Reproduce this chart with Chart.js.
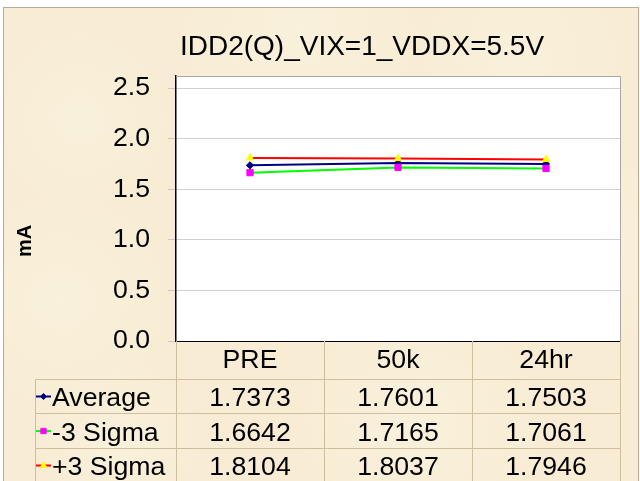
<!DOCTYPE html>
<html><head><meta charset="utf-8">
<script src="https://cdn.jsdelivr.net/npm/chart.js@4.4.1/dist/chart.umd.min.js"></script>
<style>html,body{margin:0;padding:0;background:#fff}canvas{display:block}</style>
</head><body><canvas id="c" width="640" height="481"></canvas>
<script>
const categories = ['PRE', '50k', '24hr'];
const seriesNames = ['Average', '-3 Sigma', '+3 Sigma'];
const average = [1.7373, 1.7601, 1.7503];
const minus3 = [1.6642, 1.7165, 1.7061];
const plus3 = [1.8104, 1.8037, 1.7946];
const yTicks = [0, 0.5, 1.0, 1.5, 2.0, 2.5];
const titleText = 'IDD2(Q)_VIX=1_VDDX=5.5V';
const yTitle = 'mA';

const FONT = "'Liberation Sans', Arial, sans-serif";
const PARCH = '#F8EDD4';
const TABLE_LINE = '#CDBF9F';

const seriesStyles = [
  {line: '#000080', fill: '#000080', style: 'rectRot', r: 3.6},
  {line: '#00FF00', fill: '#FF00FF', style: 'rect', r: 4.4},
  {line: '#FF0000', fill: '#FFFF00', style: 'triangle', r: 4.2}
];
const seriesData = [average, minus3, plus3];

function drawMarker(ctx, style, x, y, r, color) {
  ctx.save();
  ctx.fillStyle = color; ctx.strokeStyle = color; ctx.lineWidth = 1;
  Chart.helpers.drawPoint(ctx, {pointStyle: style, radius: r, rotation: 0, borderWidth: 1}, x, y);
  ctx.restore();
}

const decor = {
  id: 'decor',
  beforeDraw(chart) {
    const ctx = chart.ctx, a = chart.chartArea;
    ctx.save();
    ctx.fillStyle = '#fff';
    ctx.fillRect(0, 0, chart.width, chart.height);
    ctx.fillStyle = PARCH;
    ctx.fillRect(3, 7, 636, 480);
    const spots = [[80,120,90],[300,30,120],[520,60,100],[60,300,110],[600,250,90],[120,440,80],[420,420,120]];
    spots.forEach(s => {
      const g = ctx.createRadialGradient(s[0], s[1], 0, s[0], s[1], s[2]);
      g.addColorStop(0, 'rgba(250,243,225,0.6)');
      g.addColorStop(1, 'rgba(250,243,225,0)');
      ctx.fillStyle = g;
      ctx.fillRect(3, 7, 636, 480);
    });
    ctx.strokeStyle = '#B5AC9C';
    ctx.lineWidth = 1;
    ctx.strokeRect(3.5, 7.5, 635, 480);
    ctx.fillStyle = '#fff';
    ctx.fillRect(a.left, a.top, a.right - a.left, a.bottom - a.top);
    ctx.restore();
  },
  afterDraw(chart) {
    const ctx = chart.ctx, a = chart.chartArea, xs = chart.scales.x;
    ctx.save();
    ctx.strokeStyle = '#A8A8A8';
    ctx.lineWidth = 1;
    ctx.beginPath();
    ctx.moveTo(a.left, a.top + 0.5); ctx.lineTo(a.right + 0.5, a.top + 0.5);
    ctx.lineTo(a.right + 0.5, a.bottom);
    ctx.stroke();

    // chart title
    ctx.fillStyle = '#000';
    ctx.font = '28px ' + FONT;
    ctx.textAlign = 'center';
    ctx.textBaseline = 'alphabetic';
    ctx.fillText(titleText, 362, 55);

    // y axis title
    ctx.save();
    ctx.translate(25, 241);
    ctx.rotate(-Math.PI / 2);
    ctx.font = 'bold 20px ' + FONT;
    ctx.textAlign = 'center';
    ctx.textBaseline = 'middle';
    ctx.fillText(yTitle, 0, 0);
    ctx.restore();

    // data table
    const rowTops = [379, 413, 448];
    const rowH = [34, 35, 34];
    const bounds = [];
    for (let i = 0; i <= categories.length; i++) {
      bounds.push(Math.round(xs.getPixelForValue(i - 0.5)));
    }
    ctx.strokeStyle = TABLE_LINE;
    ctx.lineWidth = 1;
    ctx.beginPath();
    rowTops.forEach(y => { ctx.moveTo(35, y + 0.5); ctx.lineTo(a.right, y + 0.5); });
    ctx.moveTo(35.5, rowTops[0]); ctx.lineTo(35.5, chart.height);
    bounds.forEach(x => { ctx.moveTo(x + 0.5, a.bottom); ctx.lineTo(x + 0.5, chart.height); });
    ctx.stroke();

    ctx.font = '26.67px ' + FONT;
    ctx.fillStyle = '#000';
    ctx.textBaseline = 'alphabetic';
    seriesNames.forEach((name, r) => {
      const base = rowTops[r] + rowH[r] - 7;
      const mid = rowTops[r] + rowH[r] / 2 + 0.5;
      const st = seriesStyles[r];
      ctx.strokeStyle = st.line;
      ctx.lineWidth = 2;
      ctx.beginPath(); ctx.moveTo(36, mid); ctx.lineTo(51, mid); ctx.stroke();
      drawMarker(ctx, st.style, 43.5, mid, st.r * 0.85, st.fill);
      ctx.fillStyle = '#000';
      ctx.textAlign = 'left';
      ctx.fillText(name, 52, base);
      ctx.textAlign = 'center';
      seriesData[r].forEach((v, i) => {
        ctx.fillText(v.toFixed(4), xs.getPixelForValue(i), base);
      });
    });
    ctx.restore();
  }
};

const datasets = seriesNames.map((name, i) => ({
  label: name,
  data: seriesData[i],
  borderColor: seriesStyles[i].line,
  backgroundColor: seriesStyles[i].fill,
  pointBackgroundColor: seriesStyles[i].fill,
  pointBorderColor: seriesStyles[i].fill,
  pointStyle: seriesStyles[i].style,
  pointRadius: seriesStyles[i].r,
  pointBorderWidth: 1,
  borderWidth: 2,
  tension: 0,
  fill: false,
  order: 3 - i
}));

new Chart(document.getElementById('c'), {
  type: 'line',
  data: {labels: categories, datasets},
  plugins: [decor],
  options: {
    responsive: false,
    animation: false,
    devicePixelRatio: 1,
    layout: {padding: {left: 0, right: 20, top: 76, bottom: 0}},
    plugins: {legend: {display: false}, tooltip: {enabled: false}, title: {display: false}},
    scales: {
      x: {
        type: 'category',
        offset: true,
        grid: {display: false, drawTicks: false},
        border: {display: true, color: '#000', width: 1},
        ticks: {color: '#000', font: {family: FONT, size: 26.67}, padding: 4, maxRotation: 0, autoSkip: false},
        afterFit(s) { s.height = 140; }
      },
      y: {
        min: 0,
        max: 2.62,
        grid: {color: '#D0D0D0', lineWidth: 1, drawTicks: true, tickLength: 8, tickColor: '#C8C8C8'},
        border: {display: true, color: '#000', width: 1.5},
        ticks: {color: '#000', font: {family: FONT, size: 26.67}, padding: 18,
          callback: v => Number(v).toFixed(1)},
        afterBuildTicks(s) { s.ticks = yTicks.map(v => ({value: v})); },
        afterFit(s) { s.width = 176; }
      }
    }
  }
});
</script>
</body></html>
